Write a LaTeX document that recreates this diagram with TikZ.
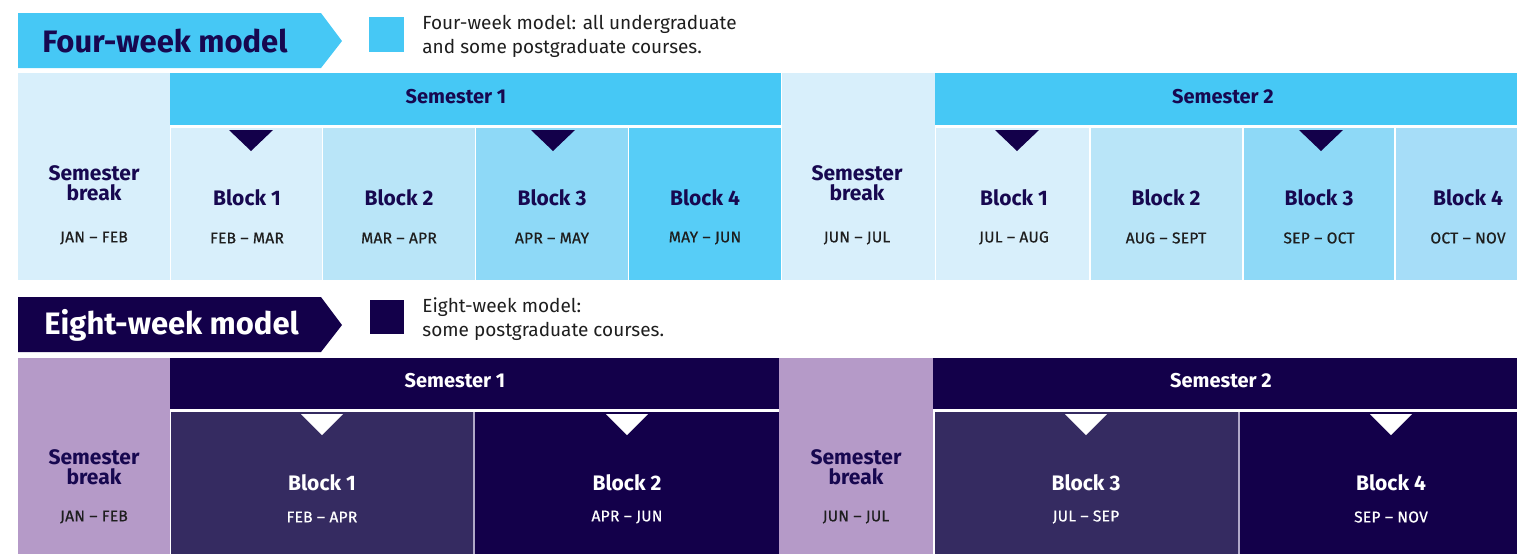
\documentclass[tikz,border=0pt]{standalone}
\usepackage{fontspec}
\setmainfont{Fira Sans}
\definecolor{cyanH}{HTML}{46C8F5}
\definecolor{lightA}{HTML}{D8EFFB}
\definecolor{lightB}{HTML}{B9E5F8}
\definecolor{lightC}{HTML}{8ED9F7}
\definecolor{lightD}{HTML}{57CDF7}
\definecolor{lightE}{HTML}{A6DDF8}
\definecolor{navy}{HTML}{13004A}
\definecolor{navyTxt}{HTML}{170850}
\definecolor{midNavy}{HTML}{352B61}
\definecolor{lav}{HTML}{B59AC8}
\definecolor{sepCol}{HTML}{B0A8C8}
\definecolor{greyTxt}{HTML}{1E1E1E}
\tikzset{
  title/.style={anchor=west, inner sep=0pt, font=\fontsize{15.5}{16}\selectfont\bfseries},
  legend/.style={anchor=west, align=left, inner sep=0pt, text=greyTxt, font=\fontsize{9.5}{12}\selectfont},
  hdr/.style={inner sep=0pt, font=\fontsize{10}{10}\selectfont\bfseries},
  brk/.style={inner sep=0pt, align=center, text=navyTxt, font=\fontsize{10.5}{10}\selectfont\bfseries},
  blk/.style={inner sep=0pt, font=\fontsize{10.5}{10.5}\selectfont\bfseries},
  mon/.style={inner sep=0pt, font=\fontsize{7.8}{7.8}\selectfont\addfontfeature{FakeBold=0.6,LetterSpace=1.5}},
}
\begin{document}
\begin{tikzpicture}[x=0.5pt,y=-0.5pt]
\useasboundingbox (0,0) rectangle (1517,554);
% ---------------- Four-week model ----------------
\fill[cyanH] (18,13) -- (321,13) -- (342,41) -- (321,68) -- (18,68) -- cycle;
\node[title, text=navyTxt] (t4) at (42,41) {Four-week model};
\fill[cyanH] (369,17) rectangle (404,52);
\node[legend] (l4) at (422,36) {Four-week model: all undergraduate\\and some postgraduate courses.};
% table
\fill[lightA] (18,73) rectangle (170,280);
\fill[cyanH] (170,73) rectangle (781,125);
\fill[lightA] (171,128) rectangle (322,280);
\fill[lightB] (323,128) rectangle (475,280);
\fill[lightC] (476,128) rectangle (628,280);
\fill[lightD] (629,128) rectangle (781,280);
\fill[lightA] (782,73) rectangle (935,280);
\fill[cyanH] (935,73) rectangle (1517,125);
\fill[lightA] (936,128) rectangle (1089,280);
\fill[lightB] (1091,128) rectangle (1242,280);
\fill[lightC] (1244,128) rectangle (1394,280);
\fill[lightE] (1396,128) rectangle (1517,280);
\foreach \cx in {251,553,1017,1321}
  \fill[navy] (\cx-22,130) -- (\cx+22,130) -- (\cx,151) -- cycle;
\node[hdr, text=navyTxt] (s1a) at (456,97) {Semester 1};
\node[hdr, text=navyTxt] (s2a) at (1223,97) {Semester 2};
\node[brk] (b0a) at (94,183) {Semester\\break};
\node[brk] (b1a) at (857,183) {Semester\\break};
\node[mon, text=greyTxt] (m0a) at (94,238) {JAN – FEB};
\node[mon, text=greyTxt] (m5a) at (857,238) {JUN – JUL};
\foreach \cx/\b/\m [count=\i] in {247/Block 1/FEB – MAR, 399/Block 2/MAR – APR, 552/Block 3/APR – MAY, 705/Block 4/MAY – JUN,
   1014/Block 1/JUL – AUG, 1166/Block 2/AUG – SEPT, 1319/Block 3/SEP – OCT, 1468/Block 4/OCT – NOV}{
  \node[blk, text=navyTxt] (bk\i) at (\cx,198) {\b};
  \node[mon, text=greyTxt] (mk\i) at (\cx,238) {\m};
}
% ---------------- Eight-week model ----------------
\fill[navy] (18,297) -- (321,297) -- (342,325) -- (321,352) -- (18,352) -- cycle;
\node[title, text=white] (t8) at (44,325) {Eight-week model};
\fill[navy] (370,300) rectangle (404,334);
\node[legend] (l8) at (422,319) {Eight-week model:\\some postgraduate courses.};
% table
\fill[lav] (18,358) rectangle (170,554);
\fill[navy] (170,358) rectangle (779,409);
\fill[midNavy] (171,412) rectangle (473,554);
\fill[sepCol] (473,412) rectangle (475,554);
\fill[navy] (475,412) rectangle (779,554);
\fill[lav] (779,358) rectangle (933,554);
\fill[navy] (933,358) rectangle (1517,409);
\fill[midNavy] (935,412) rectangle (1238,554);
\fill[sepCol] (1238,412) rectangle (1240,554);
\fill[navy] (1240,412) rectangle (1517,554);
\foreach \cx in {322,627,1086,1391}
  \fill[white] (\cx-21,414) -- (\cx+21,414) -- (\cx,435) -- cycle;
\node[hdr, text=white] (s1b) at (455,381) {Semester 1};
\node[hdr, text=white] (s2b) at (1221,381) {Semester 2};
\node[brk] (b0b) at (94,467) {Semester\\break};
\node[brk] (b1b) at (856,467) {Semester\\break};
\node[mon, text=greyTxt] (m0b) at (94,517) {JAN – FEB};
\node[mon, text=greyTxt] (m5b) at (856,517) {JUN – JUL};
\foreach \cx/\b/\m [count=\i] in {322/Block 1/FEB – APR, 627/Block 2/APR – JUN, 1086/Block 3/JUL – SEP, 1391/Block 4/SEP – NOV}{
  \node[blk, text=white] (bl\i) at (\cx,483) {\b};
  \node[mon, text=white] (ml\i) at (\cx,517) {\m};
}
\end{tikzpicture}
\end{document}
